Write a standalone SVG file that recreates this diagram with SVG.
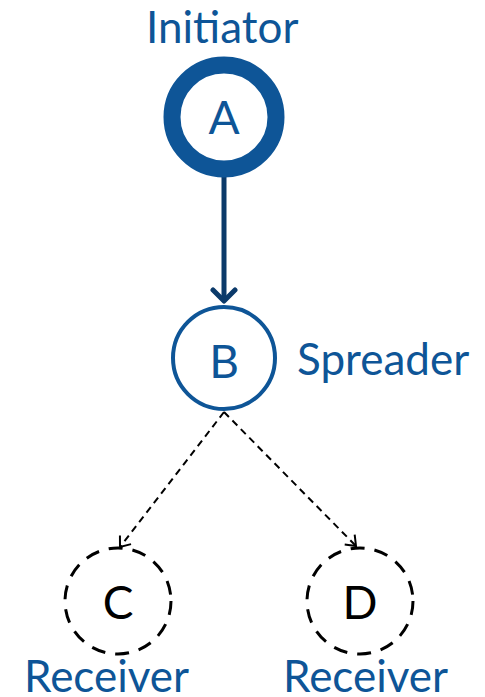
<svg xmlns="http://www.w3.org/2000/svg" width="485" height="697" viewBox="0 0 485 697">
<style>
.lbl{font-family:Lato,"Open Sans",sans-serif;font-size:44px;fill:#0e5597}
.nl{font-family:Lato,"Open Sans",sans-serif;font-size:46px;text-anchor:middle}
</style>
<defs>
<marker id="solidHead" markerUnits="userSpaceOnUse" viewBox="-14 -14 28 28" markerWidth="28" markerHeight="28" refX="0" refY="0" orient="auto">
<path d="M-11,-11 L0,0 L-11,11" fill="none" stroke="#0b3a6a" stroke-width="5" stroke-linecap="round" stroke-linejoin="round"/>
</marker>
<marker id="dashHead" markerUnits="userSpaceOnUse" viewBox="-12 -12 24 24" markerWidth="24" markerHeight="24" refX="0" refY="0" orient="auto">
<path d="M-9,-7 L0,0 L-9,7" fill="none" stroke="#000" stroke-width="2"/>
</marker>
</defs>
<rect width="485" height="697" fill="#fff"/>
<g id="connectors">
<line x1="224" y1="172" x2="224" y2="301" stroke="#0b3a6a" stroke-width="5" marker-end="url(#solidHead)"/>
<line x1="224" y1="412" x2="120" y2="547" stroke="#000" stroke-width="2" stroke-dasharray="7,5" marker-end="url(#dashHead)"/>
<line x1="224" y1="412" x2="356" y2="546" stroke="#000" stroke-width="2" stroke-dasharray="7,5" marker-end="url(#dashHead)"/>
</g>
<g id="nodeA">
<circle cx="224" cy="117" r="52" fill="#fff" stroke="#0e5597" stroke-width="17"/>
<text class="nl" x="224" y="134" fill="#0e5597">A</text>
<text class="lbl" x="146" y="43">Initiator</text>
</g>
<g id="nodeB">
<circle cx="224" cy="358" r="51" fill="#fff" stroke="#0e5597" stroke-width="4"/>
<text class="nl" x="224" y="378" fill="#0e5597">B</text>
<text class="lbl" x="297" y="375">Spreader</text>
</g>
<g id="nodeC">
<circle cx="118" cy="601" r="53" fill="#fff" stroke="#000" stroke-width="3" stroke-dasharray="14,10"/>
<text class="nl" x="118" y="619" fill="#000">C</text>
<text class="lbl" x="24" y="692">Receiver</text>
</g>
<g id="nodeD">
<circle cx="360" cy="601" r="53" fill="#fff" stroke="#000" stroke-width="3" stroke-dasharray="14,10"/>
<text class="nl" x="360" y="619" fill="#000">D</text>
<text class="lbl" x="283" y="692">Receiver</text>
</g>
</svg>
